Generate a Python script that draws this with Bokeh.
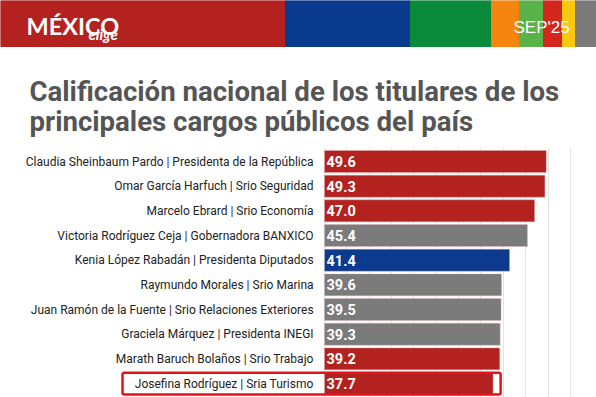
from bokeh.plotting import figure
from bokeh.models import Range1d, Grid, SingleIntervalTicker, BoxAnnotation, ColumnDataSource
from bokeh.core.properties import value
from bokeh.embed import file_html
from bokeh.resources import INLINE

# ---- data ----
names = [
    "Claudia Sheinbaum Pardo | Presidenta de la República",
    "Omar García Harfuch | Srio Seguridad",
    "Marcelo Ebrard | Srio Economía",
    "Victoria Rodríguez Ceja | Gobernadora BANXICO",
    "Kenia López Rabadán | Presidenta Diputados",
    "Raymundo Morales | Srio Marina",
    "Juan Ramón de la Fuente | Srio Relaciones Exteriores",
    "Graciela Márquez | Presidenta INEGI",
    "Marath Baruch Bolaños | Srio Trabajo",
    "Josefina Rodríguez | Sria Turismo",
]
scores = [49.6, 49.3, 47.0, 45.4, 41.4, 39.6, 39.5, 39.3, 39.2, 37.7]
groups = ["morena", "morena", "morena", "autonomo", "pan", "autonomo", "autonomo", "autonomo", "morena", "morena"]
highlight = "Josefina Rodríguez | Sria Turismo"
title_lines = ["Calificación nacional de los titulares de los", "principales cargos públicos del país"]
brand = "MÉXICO"
brand_sub = "elige"
period = "SEP'25"

# ---- styles ----
group_colors = {"morena": "#B3221F", "autonomo": "#7B7B7B", "pan": "#0C3A8E"}
W, H = 596, 397

p = figure(width=W, height=H, x_range=Range1d(0, W), y_range=Range1d(H, 0),
           output_backend="svg", toolbar_location=None, min_border=0,
           x_axis_location=None, y_axis_location=None)
p.outline_line_color = None
p.xgrid.visible = False
p.ygrid.visible = False
p.background_fill_color = "white"
p.border_fill_color = "white"

# value scale (0 at px 324, 4.47 px per unit) and row scale (row 0 at px 161, 24.67 px per row)
p.extra_x_ranges = {"val": Range1d(-72.5, 60.85)}
p.extra_y_ranges = {"row": Range1d(9.566, -6.526)}

grid = Grid(dimension=0, ticker=SingleIntervalTicker(interval=5), bounds=(0, 57),
            x_range_name="val", y_range_name="row",
            grid_line_color="#e3e3e3", grid_line_width=1)
p.add_layout(grid)

# mask gridlines above plot area
p.quad(left=0, right=W, top=0, bottom=147, color="white")

# header stripes
stripe_l = [0, 285, 410, 491, 519, 543, 562, 575]
stripe_r = [285, 410, 491, 519, 543, 562, 575, W]
stripe_c = ["#B3221F", "#0A3A8E", "#0A8A3B", "#F5850F", "#5AB348", "#D3271E", "#F9C80F", "#7A7A7A"]
p.quad(left=stripe_l, right=stripe_r, top=0, bottom=46, color=stripe_c)

p.text(x=26, y=25, text=[brand], text_font=value("Lato"), text_font_style="bold",
       text_font_size="23.5px", text_color="white", text_baseline="alphabetic")
p.text(x=88, y=33, text=[brand_sub], text_font=value("Lato"), text_font_style="bold italic",
       text_font_size="15px", text_color="white", text_baseline="alphabetic")
p.text(x=513, y=27, text=[period], text_font=value("Liberation Sans"),
       text_font_size="17px", text_color="white", text_baseline="alphabetic")

# title
p.text(x=29, y=[91, 121], text=title_lines, text_font=value("Roboto"), text_font_style="bold",
       text_font_size="27.6px", text_color="#555555", text_baseline="alphabetic")

# bars
src = ColumnDataSource(dict(
    idx=list(range(len(names))),
    name=names,
    score=scores,
    label=[f"{s:.1f}" for s in scores],
    color=[group_colors[g] for g in groups],
))
p.hbar(y="idx", left=0, right="score", height=0.89, fill_color="color",
       line_color="#e8b0b0", line_alpha=0.35, line_width=1,
       source=src, x_range_name="val", y_range_name="row")
p.text(x=-2.45, y="idx", text="name", source=src, text_align="right", text_baseline="middle",
       text_font=value("Roboto"), text_font_size="12px", text_color="#222222",
       x_range_name="val", y_range_name="row")
p.text(x=0.45, y="idx", text="label", source=src, text_align="left", text_baseline="middle",
       text_font=value("Roboto"), text_font_style="bold", text_font_size="14.5px",
       text_color="white", x_range_name="val", y_range_name="row")

# highlight box around the highlighted row
hi = names.index(highlight)
box = BoxAnnotation(left=-45.2, right=scores[hi] + 1.7, top=hi - 0.44, bottom=hi + 0.44,
                    x_range_name="val", y_range_name="row",
                    fill_color=None, line_color="#E3121B", line_alpha=1.0, line_width=2.5,
                    border_radius=2)
p.add_layout(box)

open("out.html", "w").write(file_html(p, INLINE))
